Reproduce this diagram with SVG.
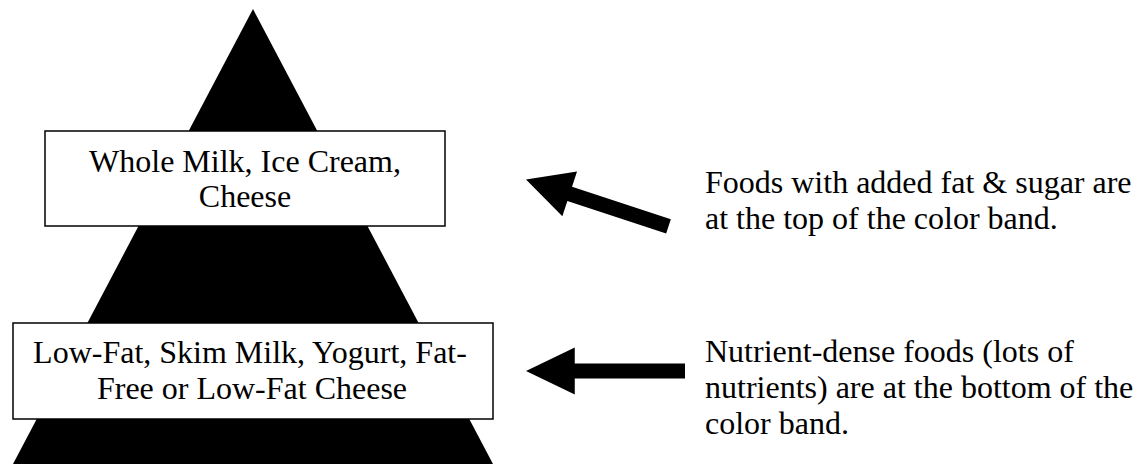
<svg xmlns="http://www.w3.org/2000/svg" width="1144" height="464" viewBox="0 0 1144 464">
  <style>
    .t { font-family: "Liberation Serif", "Times New Roman", serif; font-size: 32px; fill: #000; }
    .c { text-anchor: middle; }
    .box { fill: #fff; stroke: #000; stroke-width: 1.5; }
  </style>
  <defs>
    <polygon id="arrow" points="0,0 46,-23.5 46,-7.5 150,-7.5 150,7.5 46,7.5 46,23.5"/>
  </defs>
  <g id="pyramid">
    <polygon points="253,9 13,464 493,464" fill="#000"/>
  </g>
  <g id="box-top">
    <rect class="box" x="45" y="131" width="400" height="95"/>
    <text class="t c" x="245" y="172">Whole Milk, Ice Cream,</text>
    <text class="t c" x="245" y="207">Cheese</text>
  </g>
  <g id="box-bottom">
    <rect class="box" x="13" y="323" width="480" height="96"/>
    <text class="t c" x="250" y="363">Low-Fat, Skim Milk, Yogurt, Fat-</text>
    <text class="t c" x="252" y="399">Free or Low-Fat Cheese</text>
  </g>
  <g id="connectors">
    <use href="#arrow" transform="translate(526,179.5) rotate(18.2)"/>
    <use href="#arrow" transform="translate(526,371) scale(1.06,1)"/>
  </g>
  <g id="note-top">
    <text class="t" x="705" y="193">Foods with added fat &amp; sugar are</text>
    <text class="t" x="705" y="229">at the top of the color band.</text>
  </g>
  <g id="note-bottom">
    <text class="t" x="705" y="362">Nutrient-dense foods (lots of</text>
    <text class="t" x="705" y="398">nutrients) are at the bottom of the</text>
    <text class="t" x="705" y="434">color band.</text>
  </g>
</svg>
